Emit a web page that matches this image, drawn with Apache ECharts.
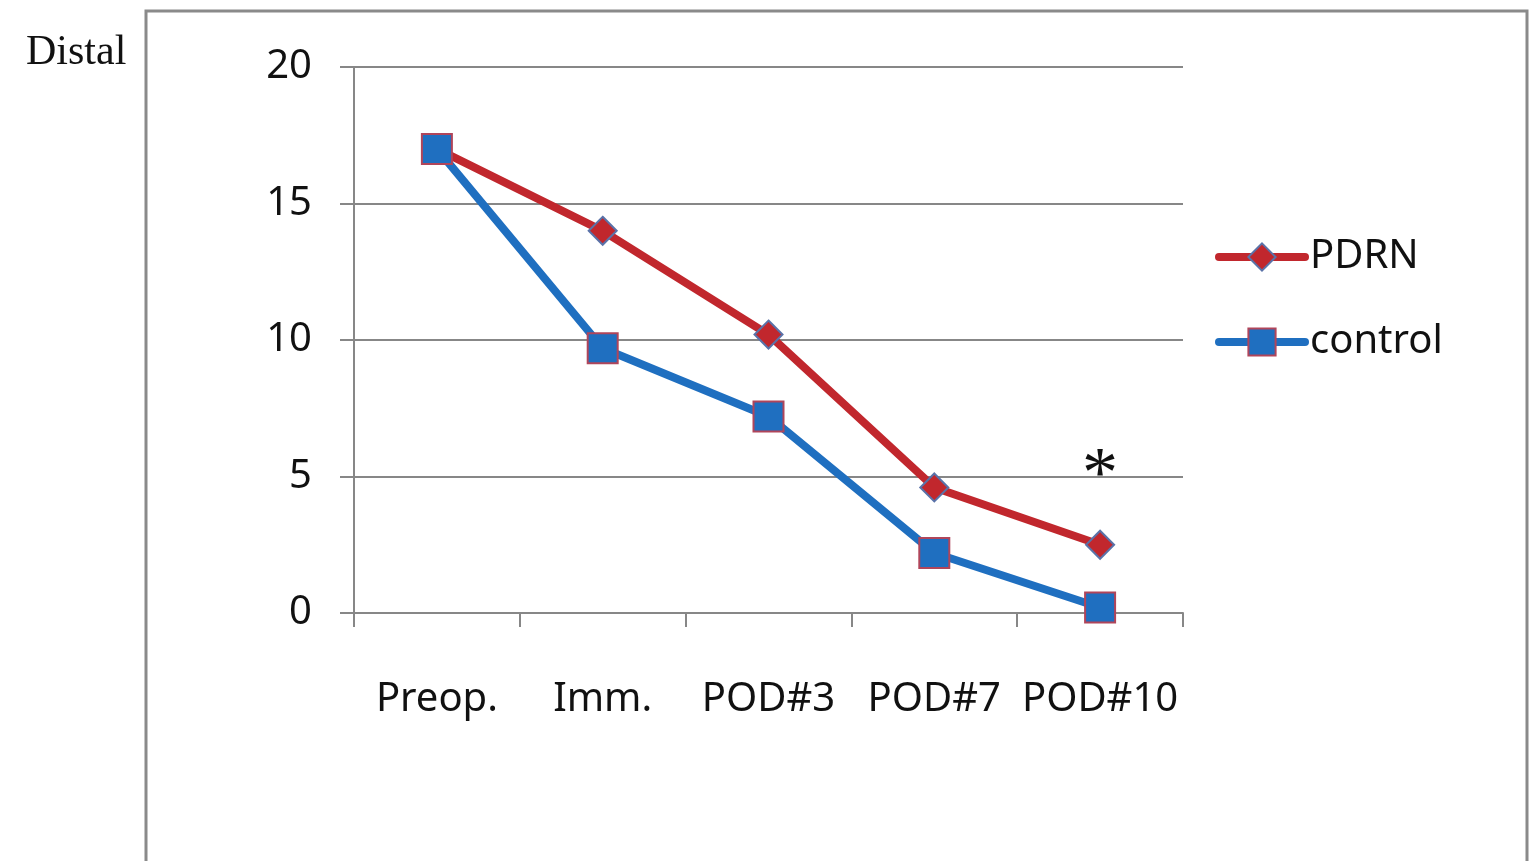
<!DOCTYPE html>
<html>
<head>
<meta charset="utf-8">
<script src="https://cdn.jsdelivr.net/npm/echarts@6/dist/echarts.min.js"></script>
<style>
html,body{margin:0;padding:0;background:#fff;}
#chart{width:1540px;height:861px;}
</style>
</head>
<body>
<div id="chart"></div>
<script>
const categories = ['Preop.', 'Imm.', 'POD#3', 'POD#7', 'POD#10'];
const pdrnValues = [17, 14, 10.2, 4.6, 2.5];
const controlValues = [17, 9.7, 7.2, 2.2, 0.2];
const yTicks = [0, 5, 10, 15, 20];
const sideLabel = 'Distal';
const significance = { category: 'POD#10', value: 5.5, text: '*' };

const chart = echarts.init(document.getElementById('chart'));
const axisGray = '#878787';
const font = '"Noto Sans", "Open Sans", sans-serif';

chart.setOption({
  animation: false,
  backgroundColor: '#ffffff',
  graphic: [
    { type: 'rect', shape: { x: 146, y: 11, width: 1381, height: 900 },
      style: { fill: 'none', stroke: '#8a8a8a', lineWidth: 3 }, z: -1 },
    { type: 'text', left: 26, top: 32,
      style: { text: sideLabel, font: '42px "Liberation Serif", "DejaVu Serif", serif', fill: '#111' } }
  ],
  grid: { left: 354, right: 357, top: 67, bottom: 248 },
  legend: {
    orient: 'vertical',
    left: 1210, top: 232,
    itemWidth: 86, itemHeight: 34, itemGap: 45,
    textStyle: { fontSize: 40, fontFamily: font, color: '#111' },
    lineStyle: { width: 8, cap: 'round' },
    data: ['PDRN', 'control']
  },
  xAxis: {
    type: 'category',
    data: categories,
    boundaryGap: true,
    axisLine: { lineStyle: { color: axisGray, width: 2 } },
    axisTick: { show: true, interval: 0, length: 14, lineStyle: { color: axisGray, width: 2 } },
    axisLabel: { interval: 0, fontSize: 40, fontFamily: font, color: '#111', margin: 67 }
  },
  yAxis: {
    type: 'value',
    min: yTicks[0], max: yTicks[yTicks.length - 1], interval: 5,
    axisLine: { show: true, lineStyle: { color: axisGray, width: 2 } },
    axisTick: { show: true, length: 14, lineStyle: { color: axisGray, width: 2 } },
    axisLabel: { fontSize: 40, fontFamily: font, color: '#111', margin: 42 },
    splitLine: { show: true, lineStyle: { color: axisGray, width: 2 } }
  },
  series: [
    {
      name: 'PDRN', type: 'line', data: pdrnValues,
      symbol: 'diamond', symbolSize: 28,
      lineStyle: { color: '#C1272D', width: 8 },
      itemStyle: { color: '#C1272D', borderColor: '#5A72A8', borderWidth: 2 },
      z: 3,
      markPoint: {
        symbol: 'circle', symbolSize: 1,
        itemStyle: { color: 'rgba(0,0,0,0)' },
        label: { show: true, formatter: significance.text, fontSize: 72,
                 fontFamily: '"Liberation Serif", serif', color: '#111', offset: [0, 14] },
        data: [{ coord: [significance.category, significance.value] }]
      }
    },
    {
      name: 'control', type: 'line', data: controlValues,
      symbol: 'rect', symbolSize: 30,
      lineStyle: { color: '#1F6FC0', width: 8 },
      itemStyle: { color: '#1F6FC0', borderColor: '#B0455A', borderWidth: 2 },
      z: 4
    }
  ]
});
</script>
</body>
</html>
